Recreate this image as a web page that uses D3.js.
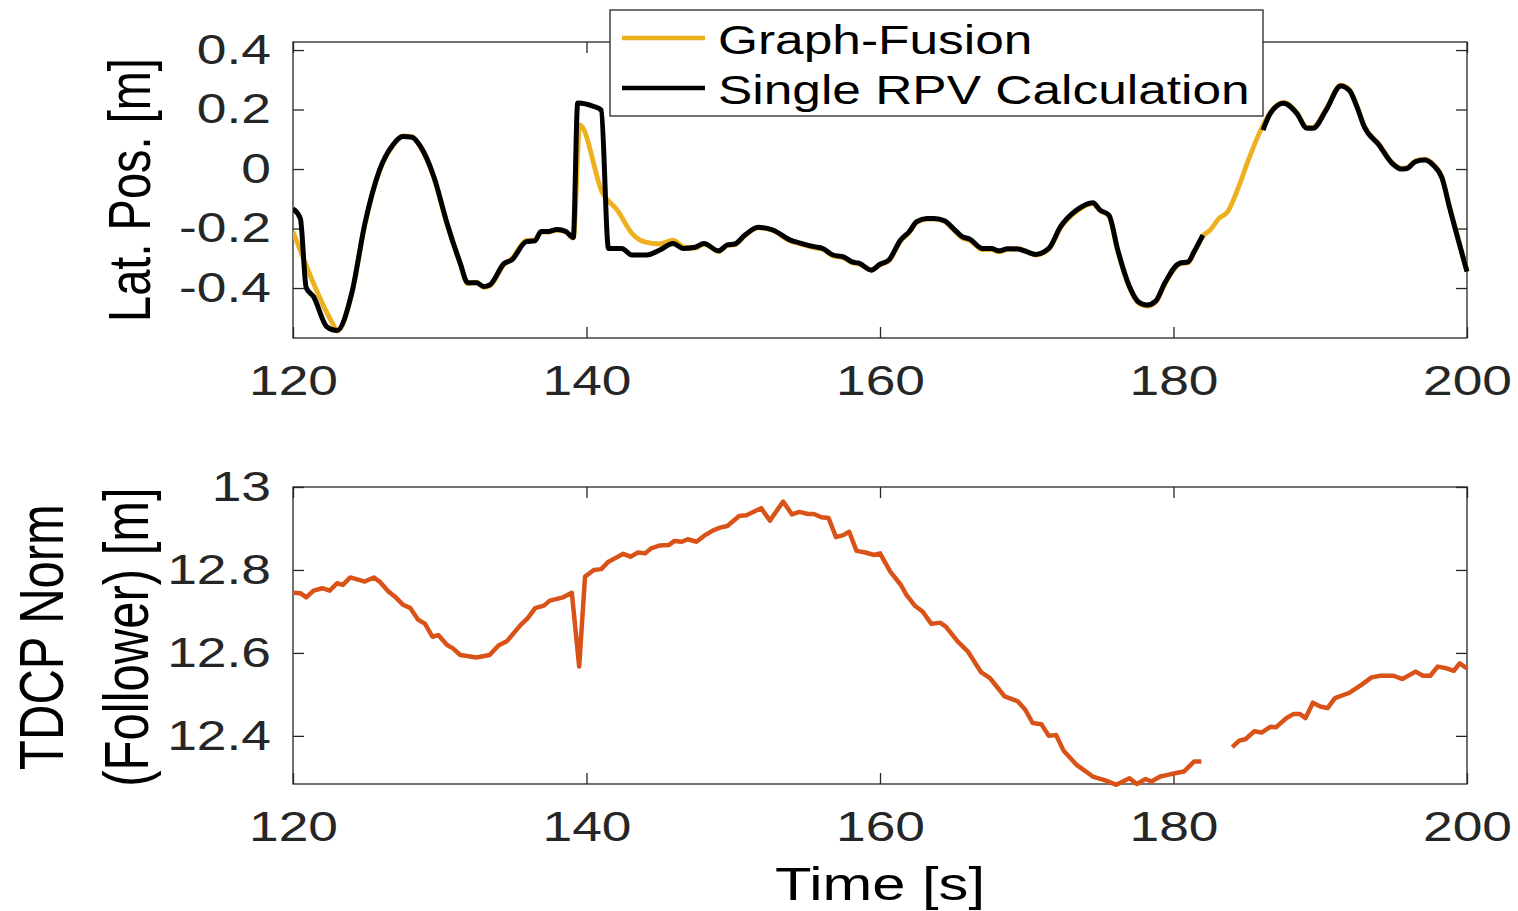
<!DOCTYPE html>
<html>
<head>
<meta charset="utf-8">
<script src="https://d3js.org/d3.v7.min.js"></script>
<style>
  body { margin: 0; background: #fff; }
  svg text { font-family: "Liberation Sans", Arial, sans-serif; }
</style>
</head>
<body>
<script>
// lateral position: single RPV calculation (null = gap)
var singleT = [120.0,120.5,120.9,121.4,122.3,123.0,124.0,124.9,125.9,126.8,127.5,128.1,128.7,129.6,130.5,131.4,131.9,132.5,133.0,133.4,134.4,134.9,135.9,136.5,136.9,137.4,138.0,138.6,139.1,139.4,140.5,141.0,141.5,142.4,143.1,144.1,145.0,145.9,146.6,147.4,148.0,149.0,149.6,150.1,150.8,151.7,152.7,153.9,154.5,155.5,156.1,156.8,157.5,158.1,158.6,159.4,160.0,160.6,161.4,162.0,162.5,163.2,163.7,164.4,165.0,165.6,166.1,167.0,167.6,168.1,168.7,169.4,170.0,170.6,171.5,172.3,173.4,174.5,175.0,175.6,176.2,177.0,177.6,178.2,178.8,179.4,180.4,181.0,181.4,182.0,null,186.1,186.6,187.5,188.4,189.1,189.5,190.4,191.4,192.0,192.5,193.0,194.0,194.9,195.5,195.9,196.5,197.1,197.7,198.3,198.8,200.0];
var singleY = [-0.134,-0.166,-0.399,-0.429,-0.530,-0.543,-0.418,-0.183,-0.003,0.081,0.109,0.107,0.075,-0.026,-0.183,-0.317,-0.382,-0.382,-0.395,-0.390,-0.317,-0.306,-0.244,-0.241,-0.210,-0.210,-0.203,-0.210,-0.230,0.222,0.210,0.198,-0.267,-0.267,-0.289,-0.289,-0.272,-0.250,-0.267,-0.263,-0.250,-0.275,-0.255,-0.252,-0.222,-0.196,-0.205,-0.239,-0.248,-0.261,-0.267,-0.289,-0.295,-0.312,-0.317,-0.340,-0.320,-0.306,-0.239,-0.210,-0.177,-0.166,-0.166,-0.174,-0.200,-0.227,-0.235,-0.267,-0.267,-0.275,-0.268,-0.269,-0.278,-0.287,-0.267,-0.194,-0.138,-0.113,-0.138,-0.155,-0.272,-0.395,-0.446,-0.457,-0.443,-0.384,-0.317,-0.312,-0.278,-0.222,null,0.131,0.187,0.221,0.187,0.137,0.137,0.198,0.279,0.263,0.209,0.142,0.081,0.019,0.000,0.002,0.025,0.030,0.013,-0.031,-0.127,-0.345];

// lateral position: graph fusion
var fusionT = [120.0,122.75,123.0,124.0,124.9,125.9,126.8,127.5,128.1,128.7,129.6,130.5,131.4,131.9,132.5,133.0,133.4,134.4,134.9,135.9,136.5,136.9,137.4,138.0,138.6,139.1,139.55,141.1,142.1,143.1,143.9,145.0,145.9,146.6,147.4,148.0,149.0,149.6,150.1,150.8,151.7,152.7,153.9,154.5,155.5,156.1,156.8,157.5,158.1,158.6,159.4,160.0,160.6,161.4,162.0,162.5,163.2,163.7,164.4,165.0,165.6,166.1,167.0,167.6,168.1,168.7,169.4,170.0,170.6,171.5,172.3,173.4,174.5,175.0,175.6,176.2,177.0,177.6,178.2,178.8,179.4,180.4,181.0,181.4,182.0,182.5,183.1,183.7,184.4,185.1,186.0,186.6,187.5,188.4,189.1,189.5,190.4,191.4,192.0,192.5,193.0,194.0,194.9,195.5,195.9,196.5,197.1,197.7,198.3,198.8,200.0];
var fusionY = [-0.210,-0.524,-0.545,-0.420,-0.186,-0.006,0.078,0.111,0.109,0.072,-0.030,-0.186,-0.320,-0.385,-0.380,-0.398,-0.393,-0.320,-0.302,-0.240,-0.238,-0.212,-0.212,-0.205,-0.212,-0.232,0.148,-0.082,-0.138,-0.216,-0.244,-0.252,-0.239,-0.262,-0.266,-0.252,-0.277,-0.257,-0.254,-0.224,-0.198,-0.207,-0.242,-0.251,-0.264,-0.270,-0.292,-0.298,-0.315,-0.320,-0.338,-0.322,-0.309,-0.242,-0.213,-0.180,-0.168,-0.168,-0.177,-0.204,-0.232,-0.240,-0.271,-0.271,-0.278,-0.270,-0.268,-0.277,-0.289,-0.270,-0.198,-0.142,-0.116,-0.140,-0.158,-0.276,-0.399,-0.450,-0.461,-0.447,-0.388,-0.320,-0.315,-0.281,-0.226,-0.205,-0.166,-0.143,-0.065,0.030,0.137,0.190,0.224,0.190,0.140,0.140,0.202,0.282,0.266,0.212,0.145,0.084,0.022,0.003,0.004,0.028,0.033,0.016,-0.028,-0.124,-0.342];

// TDCP norm of the follower (null = gap)
var tdcpT = [120.0,120.5,120.9,121.4,122.0,122.5,123.0,123.4,123.9,124.9,125.5,125.9,126.5,127.0,127.5,128.0,128.5,129.0,129.5,129.9,130.5,130.9,131.4,132.5,133.4,134.0,134.6,135.5,136.0,136.5,137.1,137.5,138.4,139.0,139.5,139.9,140.5,141.0,141.5,142.1,142.5,143.0,143.5,144.0,144.4,145.0,145.6,146.0,146.5,146.9,147.5,148.0,148.6,149.1,149.6,150.4,150.9,151.5,151.9,152.5,153.4,154.0,154.5,155.1,155.5,156.0,156.5,157.0,157.5,157.9,158.4,159.0,159.6,160.0,160.7,161.4,161.8,162.4,162.9,163.5,164.1,164.5,165.3,166.0,166.9,167.5,168.5,169.4,169.9,170.4,171.0,171.5,172.0,172.5,173.4,174.5,175.4,176.1,177.0,177.5,178.1,178.5,179.1,179.6,180.1,180.7,181.4,181.9,null,184.0,184.5,184.9,185.5,186.0,186.6,187.0,187.7,188.2,188.6,189.0,189.5,190.0,190.5,191.0,192.0,192.8,193.5,194.1,195.0,195.6,196.5,197.0,197.5,198.0,198.6,199.1,199.5,200.0];
var tdcpY = [12.745,12.744,12.734,12.750,12.756,12.750,12.768,12.764,12.782,12.772,12.782,12.772,12.748,12.734,12.716,12.708,12.681,12.670,12.639,12.643,12.619,12.611,12.595,12.589,12.595,12.618,12.629,12.667,12.684,12.708,12.714,12.726,12.734,12.745,12.567,12.784,12.800,12.802,12.820,12.831,12.839,12.832,12.842,12.840,12.852,12.859,12.860,12.870,12.868,12.874,12.868,12.882,12.895,12.902,12.906,12.930,12.932,12.942,12.949,12.919,12.965,12.934,12.940,12.935,12.935,12.927,12.925,12.879,12.884,12.892,12.846,12.842,12.836,12.840,12.796,12.765,12.740,12.713,12.700,12.670,12.673,12.663,12.627,12.603,12.553,12.539,12.495,12.483,12.463,12.431,12.428,12.400,12.402,12.365,12.330,12.302,12.292,12.282,12.298,12.284,12.296,12.290,12.302,12.306,12.310,12.314,12.338,12.338,null,12.373,12.389,12.392,12.411,12.408,12.422,12.421,12.443,12.453,12.453,12.443,12.480,12.471,12.467,12.491,12.504,12.523,12.541,12.545,12.545,12.537,12.555,12.545,12.545,12.567,12.563,12.557,12.575,12.563];

var xTicks = [120, 140, 160, 180, 200];
var latTicks = [-0.4, -0.2, 0, 0.2, 0.4];
var tdcpTicks = [12.4, 12.6, 12.8, 13];
var legendNames = ["Graph-Fusion", "Single RPV Calculation"];

var W = 1518, H = 911;
var SX = 1.27;           // the picture is stretched sideways, text follows
var axisCol = "#262626";
var cOrange = "#EDB120", cBlack = "#000000", cRed = "#D95319";

var svg = d3.select("body").append("svg").attr("width", W).attr("height", H);

var left = 293, right = 1467;
var top1 = { y0: 42, y1: 338 };
var top2 = { y0: 487, y1: 784 };

var x = d3.scaleLinear().domain([120, 200]).range([left, right]);
var y1 = d3.scaleLinear().domain([-0.568, 0.427]).range([top1.y1, top1.y0]);
var y2 = d3.scaleLinear().domain([12.284, 13.0]).range([top2.y1, top2.y0]);

function pairs(ts, vs) {
    return ts.map(function (t, i) { return [t, vs[i]]; });
}

function styleTicks(a) {
    a.select(".domain").remove();
    a.selectAll("line").attr("stroke", axisCol).attr("stroke-width", 1.3);
}

function drawAxes(ys, ticks, box, fmt, id) {
    var g = svg.append("g");
    // inward ticks on all four sides
    g.append("g").attr("transform", "translate(0," + box.y1 + ")")
        .call(d3.axisBottom(x).tickValues(xTicks).tickSize(-11).tickPadding(27).tickFormat(d3.format("d")))
        .call(function (a) {
            styleTicks(a);
            a.selectAll("text").attr("font-size", 42).attr("fill", axisCol).attr("font-family", "Liberation Sans")
                .attr("transform", "scale(" + SX + ",1)");
        });
    g.append("g").attr("transform", "translate(0," + box.y0 + ")")
        .call(d3.axisTop(x).tickValues(xTicks).tickSize(-11).tickFormat(""))
        .call(styleTicks);
    g.append("g").attr("transform", "translate(" + left + ",0)")
        .call(d3.axisLeft(ys).tickValues(ticks).tickSize(-11).tickFormat(fmt))
        .call(function (a) {
            styleTicks(a);
            a.selectAll("text").attr("font-size", 42).attr("fill", axisCol).attr("font-family", "Liberation Sans")
                .attr("x", 0).attr("transform", "translate(-22,0) scale(" + SX + ",1)");
        });
    g.append("g").attr("transform", "translate(" + right + ",0)")
        .call(d3.axisRight(ys).tickValues(ticks).tickSize(-11).tickFormat(""))
        .call(styleTicks);
    g.append("rect")
        .attr("x", left).attr("y", box.y0)
        .attr("width", right - left).attr("height", box.y1 - box.y0)
        .attr("fill", "none").attr("stroke", axisCol).attr("stroke-width", 1.3);

    svg.append("clipPath").attr("id", id)
        .append("rect").attr("x", left).attr("y", box.y0 - 3)
        .attr("width", right - left + 3).attr("height", box.y1 - box.y0 + 6);
}

function label(txt, px, py, size, rotate) {
    svg.append("text")
        .attr("transform", "translate(" + px + "," + py + ") scale(" + SX + ",1)" + (rotate ? " rotate(-90)" : ""))
        .attr("text-anchor", "middle")
        .attr("font-size", size)
        .attr("fill", "#000")
        .text(txt);
}

var fmtLat = function (d) { return d === 0 ? "0" : d3.format(".1f")(d).replace("\u2212", "-"); };
var fmtTdcp = function (d) { return d === 13 ? "13" : d3.format(".1f")(d); };

drawAxes(y1, latTicks, top1, fmtLat, "clip1");
drawAxes(y2, tdcpTicks, top2, fmtTdcp, "clip2");

function path(g, data, ys, colour, width, clip, curve) {
    var line = d3.line()
        .defined(function (d) { return d[0] !== null && d[1] !== null; })
        .curve(curve)
        .x(function (d) { return x(d[0]); })
        .y(function (d) { return ys(d[1]); });
    g.append("path")
        .datum(data)
        .attr("d", line)
        .attr("clip-path", "url(#" + clip + ")")
        .attr("fill", "none")
        .attr("stroke", colour)
        .attr("stroke-width", width)
        .attr("stroke-linejoin", "round")
        .attr("stroke-linecap", "butt");
}

var lines = svg.append("g");
path(lines, pairs(fusionT, fusionY), y1, cOrange, 4.8, "clip1", d3.curveMonotoneX);
path(lines, pairs(singleT, singleY), y1, cBlack, 5, "clip1", d3.curveMonotoneX);
path(lines, pairs(tdcpT, tdcpY), y2, cRed, 4.5, "clip2", d3.curveLinear);

// axis labels
label("Lat. Pos. [m]", 150, 190, 47, true);
label("TDCP Norm", 63, 637, 49, true);
label("(Follower) [m]", 148, 637, 49, true);
label("Time [s]", 880, 900, 47, false);

// legend
var lg = svg.append("g");
lg.append("rect").attr("x", 610).attr("y", 10).attr("width", 653).attr("height", 106)
    .attr("fill", "#fff").attr("stroke", axisCol).attr("stroke-width", 1.3);
var legCols = [cOrange, cBlack];
legendNames.forEach(function (n, i) {
    var ly = 38 + i * 50;
    lg.append("line").attr("x1", 622).attr("x2", 705).attr("y1", ly).attr("y2", ly)
        .attr("stroke", legCols[i]).attr("stroke-width", 4.5);
    lg.append("text")
        .attr("transform", "translate(718," + (ly + 16) + ") scale(" + SX + ",1)")
        .attr("font-size", 40.5).attr("fill", "#000").text(n);
});
</script>
</body>
</html>
